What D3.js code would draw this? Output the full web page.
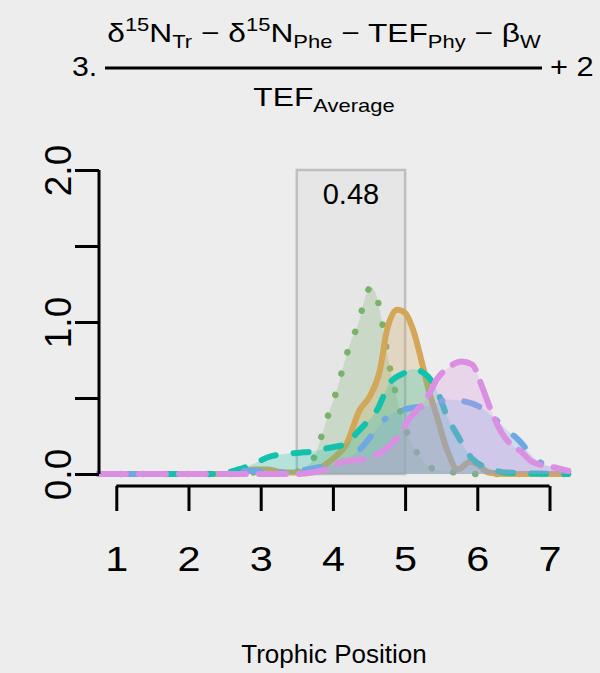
<!DOCTYPE html>
<html>
<head>
<meta charset="utf-8">
<script src="https://cdn.jsdelivr.net/npm/d3@7"></script>
<style>
  html, body { margin: 0; padding: 0; background: #ededed; }
  svg { display: block; font-family: "Liberation Sans", Arial, Helvetica, sans-serif; }
</style>
</head>
<body>
<svg id="chart" width="600" height="673"></svg>
<script>
// Kernel density estimates of trophic position for five consumers
const greenTP  = [0.76, 2.8, 3.0, 3.2, 3.45, 3.6, 3.74, 3.85, 3.95, 4.06, 4.14, 4.24, 4.36, 4.44, 4.53, 4.60, 4.67, 4.78, 4.85, 5.03, 5.18, 5.41, 5.7, 6.0, 7.26];
const greenDen = [0, 0, 0.02, 0.01, 0.01, 0.04, 0.11, 0.26, 0.41, 0.56, 0.70, 0.86, 1.00, 1.15, 1.23, 1.18, 1.03, 0.72, 0.57, 0.27, 0.13, 0.03, 0.01, 0, 0];

const goldTP  = [0.76, 2.6, 2.9, 3.1, 3.3, 3.6, 3.86, 4.0, 4.19, 4.37, 4.51, 4.65, 4.75, 4.89, 5.0, 5.11, 5.25, 5.34, 5.44, 5.58, 5.73, 5.9, 6.04, 6.15, 6.4, 7.26];
const goldDen = [0, 0, 0.03, 0.03, 0.01, 0.01, 0.05, 0.1, 0.2, 0.42, 0.51, 0.68, 0.95, 1.08, 1.06, 0.95, 0.7, 0.53, 0.38, 0.16, 0.03, 0.08, 0.05, 0.01, 0, 0];

const tealTP  = [0.76, 2.4, 2.69, 2.92, 3.1, 3.3, 3.54, 3.75, 3.92, 4.19, 4.33, 4.45, 4.61, 4.79, 4.97, 5.11, 5.2, 5.32, 5.46, 5.58, 5.72, 5.93, 6.15, 6.4, 7.26];
const tealDen = [0, 0, 0.03, 0.07, 0.11, 0.13, 0.14, 0.15, 0.17, 0.2, 0.27, 0.33, 0.42, 0.6, 0.66, 0.69, 0.68, 0.64, 0.53, 0.38, 0.26, 0.1, 0.04, 0.01, 0];

const blueTP  = [0.76, 2.5, 2.8, 3.0, 3.2, 3.5, 3.86, 4.17, 4.37, 4.58, 4.79, 5.04, 5.34, 5.6, 5.8, 6.0, 6.18, 6.41, 6.58, 6.8, 7.0, 7.26];
const blueDen = [0, 0, 0.02, 0.02, 0.01, 0.02, 0.05, 0.09, 0.16, 0.28, 0.39, 0.43, 0.45, 0.49, 0.48, 0.45, 0.39, 0.29, 0.22, 0.1, 0.05, 0.02];

const pinkTP  = [0.76, 3.5, 3.9, 4.06, 4.28, 4.45, 4.65, 4.89, 5.07, 5.3, 5.45, 5.6, 5.78, 5.93, 6.07, 6.18, 6.34, 6.5, 6.6, 6.76, 7.1, 7.26];
const pinkDen = [0, 0, 0.03, 0.07, 0.09, 0.1, 0.14, 0.24, 0.37, 0.5, 0.63, 0.7, 0.74, 0.72, 0.57, 0.43, 0.27, 0.18, 0.15, 0.08, 0.04, 0.02];

const seriesNames  = ["green", "gold", "teal", "blue", "pink"];
const seriesColors = ["#79b26a", "#d4a657", "#13c2ad", "#6fa8e2", "#da8fe2"];

// Highlighted interval and its probability
const boxRange = [3.5, 5.0];
const boxLabel = "0.48";

const xTicks = [1, 2, 3, 4, 5, 6, 7];
const yTicks = [0, 0.5, 1, 1.5, 2];
const yTickLabels = ["0.0", "1.0", "2.0"];

const svg = d3.select("#chart");

const x = d3.scaleLinear().domain([1, 7]).range([116.3, 549.5]);
const y = d3.scaleLinear().domain([0, 2]).range([474, 170]);

// horizontal stretch about a given x
const stretch = (cx, s) => `translate(${cx},0) scale(${s},1) translate(${-cx},0)`;

// ---- formula heading ----
const mainSize = 26, subSize = 18;
const head = svg.append("g").attr("fill", "#000");
const frac = head.append("g").attr("transform", stretch(324, 1.22));

function addFormulaText(parent, xc, yb, parts) {
  const t = parent.append("text")
    .attr("x", xc).attr("y", yb)
    .attr("text-anchor", "middle")
    .attr("font-size", mainSize);
  let shift = 0;
  parts.forEach(p => {
    const target = p.s === "sub" ? 6 : p.s === "sup" ? -11 : 0;
    t.append("tspan")
      .attr("dy", target - shift)
      .attr("font-size", p.s ? subSize : mainSize)
      .text(p.t);
    shift = target;
  });
  return t;
}

addFormulaText(frac, 324, 42, [
  {t: "δ"}, {t: "15", s: "sup"}, {t: "N"}, {t: "Tr", s: "sub"},
  {t: " − δ"}, {t: "15", s: "sup"}, {t: "N"}, {t: "Phe", s: "sub"},
  {t: " − TEF"}, {t: "Phy", s: "sub"},
  {t: " − β"}, {t: "W", s: "sub"}
]);
addFormulaText(frac, 324, 106, [{t: "TEF"}, {t: "Average", s: "sub"}]);

head.append("line")
  .attr("x1", 105).attr("x2", 542).attr("y1", 68).attr("y2", 68)
  .attr("stroke", "#000").attr("stroke-width", 3);
head.append("text").attr("x", 72).attr("y", 76).attr("font-size", 28)
  .attr("transform", stretch(72, 1.08)).text("3.");
head.append("text").attr("x", 550).attr("y", 76).attr("font-size", 28)
  .attr("transform", stretch(550, 1.1)).text("+ 2");

// ---- highlighted interval ----
svg.append("rect")
  .attr("x", x(boxRange[0])).attr("y", y(2))
  .attr("width", x(boxRange[1]) - x(boxRange[0]))
  .attr("height", y(0) - y(2))
  .attr("fill", "rgba(190,190,190,0.16)")
  .attr("stroke", "#bfbfbf").attr("stroke-width", 2.5);

// ---- density curves ----
const dataSets = [
  [greenTP, greenDen], [goldTP, goldDen], [tealTP, tealDen], [blueTP, blueDen], [pinkTP, pinkDen]
];
const dashes = [
  "0.1,22",          // dotted
  null,              // solid
  "15,18",           // dashed
  "1,22,16,22",      // dot-dash
  "27,13"            // long dash
];
const widths = [6.5, 6, 6, 6, 6];

const area = d3.area().x(d => x(d[0])).y0(y(0)).y1(d => y(d[1])).curve(d3.curveMonotoneX);
const line = d3.line().x(d => x(d[0])).y(d => y(d[1])).curve(d3.curveMonotoneX);

const curves = svg.append("g");
dataSets.forEach(([tp, den], i) => {
  const pts = tp.map((v, j) => [v, den[j]]);
  const g = curves.append("g").attr("class", "density " + seriesNames[i]);
  g.append("path").attr("d", area(pts))
    .attr("fill", seriesColors[i]).attr("fill-opacity", 0.25);
  g.append("path").attr("d", line(pts))
    .attr("fill", "none")
    .attr("stroke", seriesColors[i])
    .attr("stroke-width", widths[i])
    .attr("stroke-linecap", "round")
    .attr("stroke-linejoin", "round")
    .attr("stroke-dasharray", dashes[i]);
});

const bx = (x(boxRange[0]) + x(boxRange[1])) / 2;
svg.append("text")
  .attr("x", bx).attr("y", 204)
  .attr("text-anchor", "middle").attr("font-size", 29)
  .text(boxLabel);

// ---- axes ----
const yAxis = d3.axisLeft(y).tickValues(yTicks).tickSize(24)
  .tickFormat(d => yTickLabels.includes(d3.format(".1f")(d)) ? d3.format(".1f")(d) : "");
const gy = svg.append("g").attr("transform", "translate(99,0)").call(yAxis);
gy.attr("font-family", null);
gy.select(".domain").attr("d", `M0,${y(2)}V${y(0)}`).attr("stroke-width", 3);
gy.selectAll(".tick line").attr("stroke-width", 3);
gy.selectAll(".tick text")
  .attr("font-size", 37).attr("fill", "#000")
  .attr("transform", "translate(-28,0) rotate(-90)")
  .attr("x", 0).attr("y", 0).attr("dy", null)
  .attr("text-anchor", "middle");

const xAxis = d3.axisBottom(x).tickValues(xTicks).tickSize(25).tickPadding(34)
  .tickFormat(d3.format("d"));
const gx = svg.append("g").attr("transform", "translate(0,486)").call(xAxis);
gx.attr("font-family", null);
gx.select(".domain").attr("d", `M${x(1)},0H${x(7)}`).attr("stroke-width", 3);
gx.selectAll(".tick line").attr("stroke-width", 3);
gx.selectAll(".tick text").attr("font-size", 36).attr("fill", "#000")
  .attr("transform", "scale(1.15,1)");

svg.append("text")
  .attr("x", 334).attr("y", 663)
  .attr("text-anchor", "middle").attr("font-size", 26)
  .text("Trophic Position");
</script>
</body>
</html>
